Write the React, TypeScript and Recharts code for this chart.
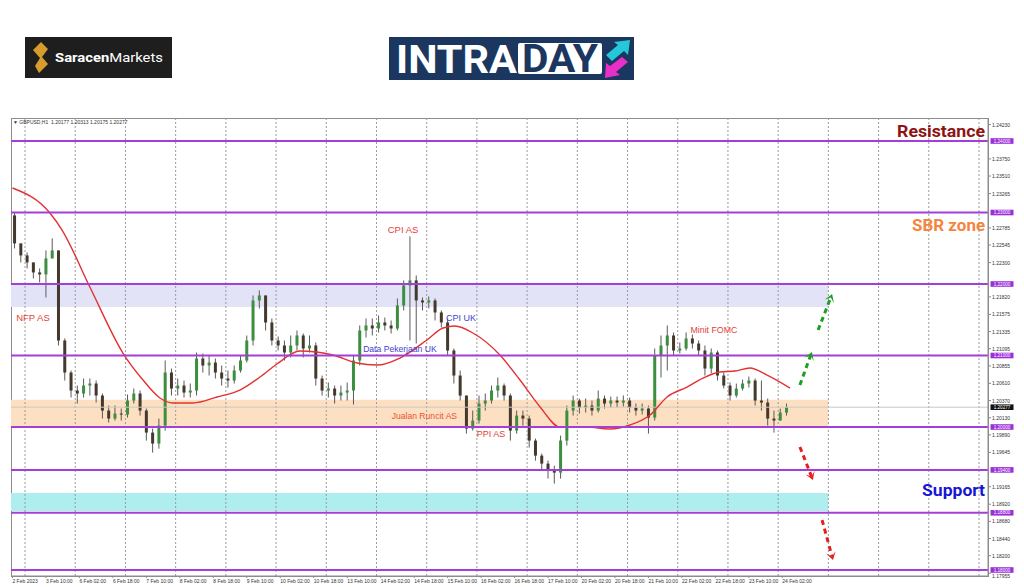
import React from 'react';
import {
  ComposedChart,
  Bar,
  Line,
  XAxis,
  YAxis,
  ReferenceLine,
  ReferenceArea,
  ReferenceDot
} from 'recharts';

const FONT = '"Liberation Sans", Arial, sans-serif';

// GBPUSD H1 from 2 Feb 18:00, shown as 3-bar candles (t = H1 bar index)
const FIRST_OPEN = 1.2296;
const HIGH = [
  1.23002, 1.22568, 1.22442, 1.22302, 1.22218, 1.2247, 1.22638, 1.2247, 1.21238, 1.2079,
  1.2058, 1.20678, 1.20678, 1.2065, 1.20468, 1.203, 1.203, 1.20258, 1.20454, 1.20538,
  1.2051, 1.20258, 1.19978, 1.20118, 1.2093, 1.20818, 1.20678, 1.2065, 1.20608, 1.21042,
  1.21028, 1.21, 1.20958, 1.2086, 1.2079, 1.2086, 1.21, 1.2128, 1.2184, 1.2191,
  1.2184, 1.21518, 1.21266, 1.2121, 1.2128, 1.2135, 1.21308, 1.2128, 1.21182, 1.2072,
  1.20622, 1.2058, 1.2058, 1.20622, 1.21, 1.2142, 1.21518, 1.21518, 1.2156, 1.21532,
  1.2149, 1.21798, 1.2205, 1.22666, 1.2212, 1.21812, 1.21826, 1.21798, 1.2163, 1.21518,
  1.21098, 1.2079, 1.2044, 1.2023, 1.2044, 1.20468, 1.2058, 1.20692, 1.20608, 1.20468,
  1.2023, 1.2023, 1.2016, 1.19838, 1.19628, 1.1953, 1.1946, 1.1988, 1.203, 1.2044,
  1.20398, 1.20398, 1.2037, 1.2051, 1.2044, 1.20426, 1.20426, 1.2044, 1.20412, 1.20328,
  1.20328, 1.203, 1.21098, 1.2128, 1.2142, 1.21322, 1.21182, 1.21322, 1.21294, 1.2121,
  1.2114, 1.21098, 1.2107, 1.20762, 1.20622, 1.20608, 1.20664, 1.20706, 1.20678, 1.2065,
  1.20398, 1.2023, 1.20258, 1.20328
];
const LOW = [
  1.22498, 1.22302, 1.22218, 1.22078, 1.22022, 1.21812, 1.22358, 1.2114, 1.2065, 1.20412,
  1.20328, 1.20412, 1.2044, 1.20342, 1.20118, 1.20062, 1.2009, 1.2009, 1.20132, 1.20328,
  1.2016, 1.1981, 1.19642, 1.19698, 1.1995, 1.2044, 1.2044, 1.20412, 1.20412, 1.2044,
  1.20762, 1.2072, 1.20678, 1.2058, 1.20552, 1.20608, 1.20762, 1.20902, 1.2114, 1.21658,
  1.2135, 1.2114, 1.2107, 1.2093, 1.20972, 1.2107, 1.20972, 1.21042, 1.2058, 1.2044,
  1.20412, 1.20328, 1.2037, 1.2037, 1.20314, 1.2086, 1.21252, 1.2128, 1.21322, 1.2135,
  1.21308, 1.2135, 1.2163, 1.2121, 1.21168, 1.2163, 1.21658, 1.2149, 1.21392, 1.21,
  1.20608, 1.2037, 1.19908, 1.1995, 1.20048, 1.2023, 1.20328, 1.20412, 1.2037, 1.1981,
  1.19908, 1.2002, 1.19712, 1.1953, 1.1939, 1.19278, 1.19208, 1.19278, 1.1974, 1.2016,
  1.20188, 1.20202, 1.2016, 1.20202, 1.20258, 1.20272, 1.20272, 1.20286, 1.20202, 1.2016,
  1.20174, 1.19908, 1.2009, 1.20692, 1.2079, 1.21, 1.21028, 1.2107, 1.21098, 1.21,
  1.2072, 1.20748, 1.2065, 1.20538, 1.2037, 1.20412, 1.2051, 1.20552, 1.203, 1.2023,
  1.2002, 1.19922, 1.2009, 1.2016
];
const CLOSE = [
  1.22568, 1.224, 1.22302, 1.22162, 1.22134, 1.22358, 1.2247, 1.2121, 1.20762, 1.2051,
  1.20468, 1.2058, 1.20608, 1.2044, 1.2023, 1.20118, 1.20188, 1.20174, 1.2037, 1.20468,
  1.2023, 1.19922, 1.19768, 1.2002, 1.20762, 1.20538, 1.2058, 1.20482, 1.2051, 1.20958,
  1.2086, 1.20902, 1.20762, 1.20678, 1.2065, 1.2079, 1.2093, 1.2121, 1.2177, 1.2184,
  1.21462, 1.2121, 1.2114, 1.21042, 1.2114, 1.2128, 1.21098, 1.2114, 1.20678, 1.2051,
  1.20538, 1.2044, 1.20482, 1.2051, 1.2093, 1.2135, 1.2142, 1.21378, 1.21462, 1.2142,
  1.21378, 1.217, 1.2198, 1.2205, 1.2177, 1.21742, 1.2177, 1.21602, 1.21462, 1.2107,
  1.2072, 1.2044, 1.19978, 1.2009, 1.20328, 1.2037, 1.2051, 1.2058, 1.2044, 1.1995,
  1.2016, 1.20118, 1.1981, 1.196, 1.19488, 1.1939, 1.19362, 1.1981, 1.2023, 1.2037,
  1.20272, 1.203, 1.2023, 1.20398, 1.20328, 1.2037, 1.20342, 1.2037, 1.20272, 1.2023,
  1.20258, 1.20132, 1.21, 1.2114, 1.2128, 1.2107, 1.21098, 1.21238, 1.21168, 1.2107,
  1.20818, 1.21042, 1.2072, 1.2058, 1.2044, 1.20538, 1.20608, 1.2065, 1.2037, 1.20342,
  1.20118, 1.2009, 1.20202, 1.20277
];

// red moving average, read at these bar positions
const MA_T = [
  0, 17.9, 23.7, 37, 52.8, 62.4, 70.5, 76.7, 86.3, 97.8, 108.7, 118.3, 126.4, 137.4, 153.2,
  164.7, 174.2, 185.2, 198.1, 205.8, 211.5, 220.1, 233, 242.6, 252.2, 261.7, 274.6, 285.6,
  295.2, 304.8, 312.9, 322.4, 330.1, 338.2, 345.4, 352.5, 360.7, 371.7
];
const MA_VAL = [
  1.23343, 1.22993, 1.22755, 1.21958, 1.21035, 1.20657, 1.20406, 1.20336, 1.20336, 1.2042,
  1.20517, 1.20699, 1.20881, 1.21063, 1.21007, 1.20895, 1.20867, 1.20965, 1.21217, 1.21385,
  1.21413, 1.21315, 1.21007, 1.20657, 1.2028, 1.2, 1.2, 1.19972, 1.20028, 1.20168, 1.2042,
  1.20559, 1.20685, 1.20769, 1.20783, 1.20825, 1.20727, 1.20545
];

const X_TICKS = [0, 16, 32, 48, 64, 80, 96, 112, 128, 144, 160, 176, 192, 208, 224, 240, 256, 272, 288, 304, 320, 336, 352, 368];
const X_LABELS = [
  '2 Feb 2023', '3 Feb 10:00', '6 Feb 02:00', '6 Feb 18:00', '7 Feb 10:00', '8 Feb 02:00',
  '8 Feb 18:00', '9 Feb 10:00', '10 Feb 02:00', '10 Feb 18:00', '13 Feb 10:00', '14 Feb 02:00',
  '14 Feb 18:00', '15 Feb 10:00', '16 Feb 02:00', '16 Feb 18:00', '17 Feb 10:00', '20 Feb 02:00',
  '20 Feb 18:00', '21 Feb 10:00', '22 Feb 02:00', '22 Feb 18:00', '23 Feb 10:00', '24 Feb 02:00'
];
const GRID_T = [6, 30, 54, 78, 102, 126, 150, 174, 198, 222, 246, 270, 294, 318, 342, 366, 390, 414, 438, 462];
const Y_TICKS = [
  1.2423, 1.2375, 1.2351, 1.23265, 1.22785, 1.22545, 1.223, 1.2182, 1.21575, 1.21335, 1.21095,
  1.20855, 1.2061, 1.2037, 1.2013, 1.1989, 1.19645, 1.19165, 1.1892, 1.1868, 1.1844, 1.182, 1.17955
];
const LEVELS = [1.24, 1.23, 1.22, 1.21, 1.2, 1.194, 1.188, 1.18];
const LAST_PRICE = 1.20277;

// shaded zones: [from, to]
const ZONE_LAVENDER = [1.21678, 1.22];
const ZONE_PEACH = [1.2001, 1.2038];
const ZONE_CYAN = [1.18825, 1.19077];
const ZONE_END_T = 390;

const NOTES = [
  { text: 'NFP AS', t: 9.8, p: 1.21525, color: '#e5403a', size: 9.5 },
  { text: 'CPI AS', t: 186.7, p: 1.22769, color: '#e5403a', size: 9.5 },
  { text: 'CPI UK', t: 214.4, p: 1.21525, color: '#3f3fd2', size: 9 },
  { text: 'Data Pekerjaan UK', t: 185.2, p: 1.21091, color: '#3f3fd2', size: 8.6 },
  { text: 'Jualan Runcit AS', t: 196.9, p: 1.20154, color: '#e8553a', size: 8.6 },
  { text: 'PPI AS', t: 228.7, p: 1.19902, color: '#e5403a', size: 9 },
  { text: 'Minit FOMC', t: 335.3, p: 1.21357, color: '#e5403a', size: 8.8 }
];

const BIG_NOTES = [
  { text: 'Resistance', p: 1.2414, color: '#8e1414', len: 88 },
  { text: 'SBR zone', p: 1.22825, color: '#f5843c', len: 73 },
  { text: 'Support', p: 1.19119, color: '#1616d4', len: 63 }
];

const ARROWS = [
  { from: [376.4, 1.20588], to: [382.1, 1.21049], color: '#1f9e24' },
  { from: [385.1, 1.21357], to: [391.8, 1.2186], color: '#1f9e24' },
  { from: [376.4, 1.1972], to: [382.6, 1.19259], color: '#e3201c' },
  { from: [387.0, 1.18699], to: [392.2, 1.1814], color: '#e3201c' }
];

const candles = CLOSE.map((c, i) => ({
  t: i * 3 + 1,
  open: i === 0 ? FIRST_OPEN : CLOSE[i - 1],
  high: HIGH[i],
  low: LOW[i],
  close: c
}));
const maData = MA_T.map((t, i) => ({ t, ma: MA_VAL[i] }));

const BODY_W = 3;

const Candle = (props: any) => {
  const { x, y, width, height, payload } = props;
  if (!payload || height == null || x == null) return null;
  const { open, close, high, low } = payload;
  const yHigh = Math.min(y, y + height);
  const yLow = Math.max(y, y + height);
  const k = (yLow - yHigh) / Math.max(high - low, 1e-9);
  const top = yHigh + (high - Math.max(open, close)) * k;
  const bodyH = Math.max(Math.abs(open - close) * k, 1);
  const cx = x + (width || 0) / 2;
  const up = close >= open;
  return (
    <g>
      <line x1={cx} x2={cx} y1={yHigh} y2={yLow} stroke="#5a5a5a" strokeWidth={1} />
      <rect x={cx - BODY_W / 2} y={top} width={BODY_W} height={bodyH} fill={up ? '#3b8f3e' : '#45382d'} />
    </g>
  );
};

const XTick = (props: any) => {
  const { x, y, index } = props;
  return (
    <text x={x} y={y + 4} fontSize={5} fill="#333" fontFamily={FONT} textAnchor="start">
      {X_LABELS[index] ?? ''}
    </text>
  );
};

const YTick = (props: any) => {
  const { x, y, payload } = props;
  const v = Number(payload.value);
  // the lowest tick sits under the 1.18000 tag, let it peek out below
  const dy = v < 1.18 ? 2.5 : 0;
  return (
    <text x={x} y={y + dy} fontSize={5} fill="#333" fontFamily={FONT} dominantBaseline="central">
      {v.toFixed(5)}
    </text>
  );
};

const tag = (text: string, bg: string) => (p: any) => {
  const vb = p.viewBox || {};
  const x = (vb.x ?? 0) + (vb.width ?? 0) + 2.5;
  const y = vb.y ?? 0;
  return (
    <g>
      <rect x={x} y={y - 2.8} width={23} height={5.6} fill={bg} />
      <text x={x + 11.5} y={y + 0.2} textAnchor="middle" dominantBaseline="central" fontSize={4.6} fill="#fff" fontFamily={FONT}>
        {text}
      </text>
    </g>
  );
};

const Arrow = (props: any) => {
  const { x1, y1, x2, y2, color } = props;
  const a = Math.atan2(y2 - y1, x2 - x1);
  const L = 8;
  const W = 5;
  const ux = Math.cos(a);
  const uy = Math.sin(a);
  const bx = x2 - L * ux;
  const by = y2 - L * uy;
  const nx = x2 - 0.45 * L * ux;
  const ny = y2 - 0.45 * L * uy;
  const pts = [
    [x2, y2],
    [bx - W * uy, by + W * ux],
    [nx, ny],
    [bx + W * uy, by - W * ux]
  ].map((q) => q.join(',')).join(' ');
  return (
    <g>
      <line x1={x1} y1={y1} x2={nx} y2={ny} stroke={color} strokeWidth={3} strokeDasharray="5 4" />
      <polygon points={pts} fill={color} />
    </g>
  );
};

function Header() {
  return (
    <svg width={1024} height={110} style={{ position: 'absolute', left: 0, top: 0 }}>
      <rect x={25} y={37} width={147} height={41} fill="#1e1e1e" />
      <polygon points="41,42 48,49 42,57 48,64 39,73 35,66 40,58 33,50" fill="#d89c2c" />
      <text x={55} y={62} fill="#fff" fontSize={13} fontFamily="Roboto, sans-serif" textLength={108} lengthAdjust="spacingAndGlyphs">
        <tspan fontWeight={700}>Saracen</tspan>
        <tspan fontWeight={400}>Markets</tspan>
      </text>

      <rect x={389} y={37} width={245} height={43} fill="#1b365f" />
      <text x={396} y={73} fill="#fff" fontSize={38} fontWeight={700} fontFamily="Roboto, sans-serif" textLength={121} lengthAdjust="spacingAndGlyphs">
        INTRA
      </text>
      <rect x={518} y={43} width={84} height={31} rx={2} fill="#fff" />
      <text x={522} y={72} fill="#1b365f" fontSize={38} fontWeight={700} fontFamily="Roboto, sans-serif" textLength={76} lengthAdjust="spacingAndGlyphs">
        DAY
      </text>
      <polygon points="606,55 618,45 614,42 630,40 628,55 624,51 612,61" fill="#25c8d8" />
      <polygon points="628,62 616,72 620,75 605,78 606,63 610,66 622,57" fill="#e82fc8" />
    </svg>
  );
}

export default function App() {
  return (
    <div style={{ position: 'absolute', left: 0, top: 0, width: 1024, height: 587, background: '#fff', overflow: 'hidden' }}>
      <Header />
      <div
        style={{
          position: 'absolute',
          left: 11,
          top: 118,
          width: 978,
          height: 459,
          boxSizing: 'border-box',
          border: '1px solid #8c8c8c'
        }}
      />
      <div style={{ position: 'absolute', left: 0, top: 0 }}>
        <ComposedChart width={1024} height={587} data={candles} margin={{ top: 118, left: 11, right: 0, bottom: 0 }}>
          <XAxis
            dataKey="t"
            type="number"
            domain={[-0.7, 466.3]}
            allowDataOverflow
            ticks={X_TICKS}
            interval={0}
            height={11}
            tickSize={2}
            tickMargin={1}
            stroke="#8c8c8c"
            tick={<XTick />}
          />
          <YAxis
            orientation="right"
            type="number"
            domain={[1.17916, 1.24322]}
            allowDataOverflow
            ticks={Y_TICKS}
            interval={0}
            width={36}
            tickSize={3}
            tickMargin={1}
            stroke="#8c8c8c"
            tick={<YTick />}
          />

          <ReferenceArea x1={-0.7} x2={ZONE_END_T} y1={ZONE_LAVENDER[0]} y2={ZONE_LAVENDER[1]} fill="#e3e3f8" fillOpacity={1} stroke="none" />
          <ReferenceArea x1={-0.7} x2={ZONE_END_T} y1={ZONE_PEACH[0]} y2={ZONE_PEACH[1]} fill="#fde0c2" fillOpacity={1} stroke="none" />
          <ReferenceArea x1={-0.7} x2={ZONE_END_T} y1={ZONE_CYAN[0]} y2={ZONE_CYAN[1]} fill="#aeeeee" fillOpacity={1} stroke="none" />

          {GRID_T.map((t) => (
            <ReferenceLine key={`g${t}`} x={t} stroke="#9a9a9a" strokeDasharray="2 2" strokeWidth={1} />
          ))}

          <ReferenceLine y={LAST_PRICE} stroke="#c9c9c9" strokeWidth={1} label={tag(LAST_PRICE.toFixed(5), '#111')} />

          <Bar dataKey={(d: any) => [d.low, d.high]} barSize={BODY_W} shape={(p: any) => <Candle {...p} />} isAnimationActive={false} />
          <Line data={maData} dataKey="ma" type="monotone" stroke="#e23232" strokeWidth={1.4} dot={false} activeDot={false} isAnimationActive={false} />

          {LEVELS.map((v) => (
            <ReferenceLine key={`l${v}`} y={v} stroke="#a33fd8" strokeWidth={2} label={tag(v.toFixed(5), '#9b30d9')} />
          ))}

          {NOTES.map((n) => (
            <ReferenceDot
              key={n.text}
              x={n.t}
              y={n.p}
              r={0}
              shape={(p: any) => (
                <text x={p.cx} y={p.cy} textAnchor="middle" dominantBaseline="central" fontSize={n.size} fill={n.color} fontFamily={FONT}>
                  {n.text}
                </text>
              )}
            />
          ))}

          {BIG_NOTES.map((n) => (
            <ReferenceDot
              key={n.text}
              x={464.9}
              y={n.p}
              r={0}
              shape={(p: any) => (
                <text
                  x={p.cx}
                  y={p.cy}
                  textAnchor="end"
                  dominantBaseline="central"
                  fontSize={17}
                  fontWeight={700}
                  fill={n.color}
                  fontFamily="Roboto, sans-serif"
                  textLength={n.len}
                  lengthAdjust="spacingAndGlyphs"
                >
                  {n.text}
                </text>
              )}
            />
          ))}

          {ARROWS.map((a, i) => (
            <ReferenceLine
              key={`a${i}`}
              segment={[{ x: a.from[0], y: a.from[1] }, { x: a.to[0], y: a.to[1] }]}
              shape={(p: any) => <Arrow {...p} color={a.color} />}
            />
          ))}
        </ComposedChart>
      </div>
      <div style={{ position: 'absolute', left: 13, top: 119, fontSize: 5, fontFamily: FONT, color: '#333', whiteSpace: 'pre' }}>
        {'\u25BC GBPUSD,H1  1.20177 1.20313 1.20175 1.20277'}
      </div>
    </div>
  );
}
